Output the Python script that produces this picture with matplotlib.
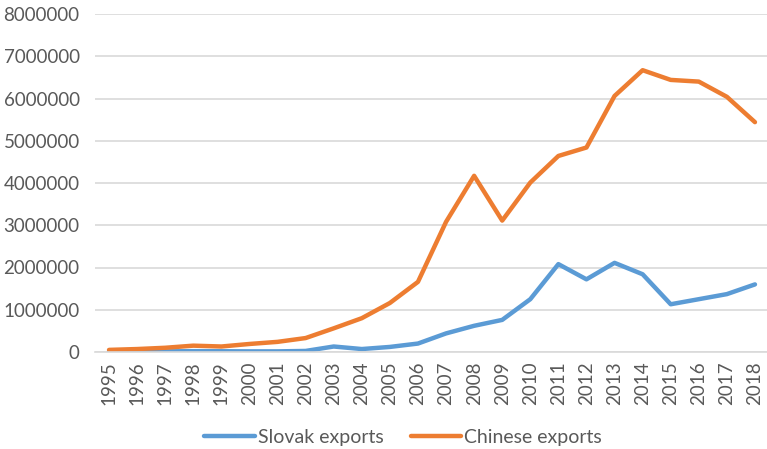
import matplotlib
matplotlib.use("Agg")
import matplotlib.pyplot as plt

years = [str(y) for y in range(1995, 2019)]
slovak = [10000, 12000, 15000, 20000, 18000, 15000, 15000, 25000, 130000, 70000, 120000, 200000,
          440000, 620000, 760000, 1250000, 2080000, 1720000, 2110000, 1840000, 1130000, 1250000, 1370000, 1600000]
chinese = [50000, 70000, 100000, 150000, 130000, 190000, 240000, 330000, 560000, 800000, 1160000, 1660000,
           3080000, 4170000, 3110000, 4010000, 4640000, 4840000, 6060000, 6670000, 6440000, 6400000, 6040000, 5440000]
yticks = [0, 1000000, 2000000, 3000000, 4000000, 5000000, 6000000, 7000000, 8000000]

plt.rcParams['font.family'] = ['Lato', 'DejaVu Sans']
fig = plt.figure(figsize=(7.67, 4.49), dpi=100)
ax = fig.add_axes([95/767, 1-352/449, (769-95)/767, (352-14)/449])
x = list(range(len(years)))
ax.plot(x, slovak, color='#5B9BD5', lw=3.2, label='Slovak exports', solid_capstyle='round')
ax.plot(x, chinese, color='#ED7D31', lw=3.2, label='Chinese exports', solid_capstyle='round')
ax.set_xlim(-0.5, len(years) - 0.5)
ax.set_ylim(0, 8000000)
ax.set_yticks(yticks)
ax.set_yticklabels([str(v) for v in yticks], fontsize=13.5, color='#595959')
ax.set_xticks(x)
ax.set_xticklabels(years, rotation=90, fontsize=13.5, color='#595959')
ax.grid(axis='y', color='#D9D9D9', lw=1.2)
ax.set_axisbelow(True)
for s in ['top', 'right', 'left']:
    ax.spines[s].set_visible(False)
ax.spines['bottom'].set_color('#D9D9D9')
ax.spines['bottom'].set_linewidth(1.2)
ax.tick_params(axis='y', length=0, pad=11)
ax.tick_params(axis='x', length=0, pad=7)
fig.legend(loc='center', bbox_to_anchor=(403/767, 1-437/449), ncol=2, frameon=False,
           fontsize=14, handlelength=2.6, handletextpad=0.15, columnspacing=1.4, labelcolor='#595959')
fig.savefig('out.png', dpi=100)
